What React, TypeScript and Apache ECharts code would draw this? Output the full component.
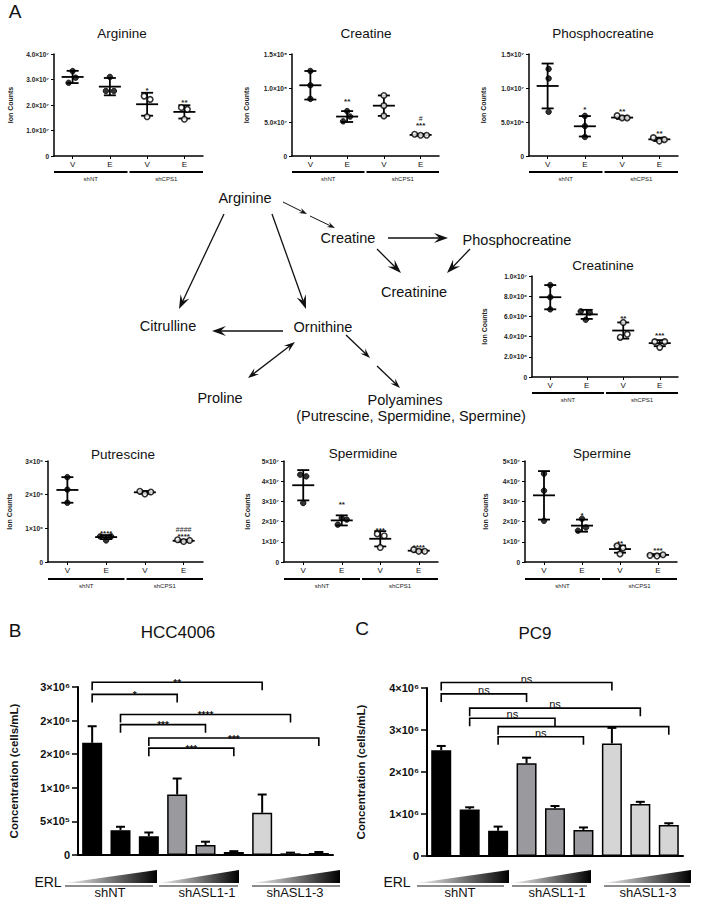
import { useEffect, useRef } from "react";
import * as echarts from "echarts";

const FONT = "'Liberation Sans', Arial, Helvetica, sans-serif";

// ---------------- Panel A : metabolite scatter plots ----------------
const scatterCategories = ["V", "E", "V", "E"];
const scatterGroups = ["shNT", "shCPS1"];

const arginineTicks = ["0", "1.0×10⁷", "2.0×10⁷", "3.0×10⁷", "4.0×10⁷"];
const argininePoints = [[3.33e7, 3.07e7, 2.87e7], [3.1e7, 2.55e7, 2.55e7], [2.35e7, 2.22e7, 1.54e7], [1.9e7, 1.83e7, 1.44e7]];
const arginineMean = [3.1e7, 2.72e7, 2.03e7, 1.73e7];
const arginineSD = [0.24e7, 0.34e7, 0.45e7, 0.26e7];
const arginineStars = ["", "", "*", "**"];
const arginineHash = ["", "", "", ""];

const creatineTicks = ["0", "5.0×10⁷", "1.0×10⁸", "1.5×10⁸"];
const creatinePoints = [[12.5e7, 10.4e7, 8.4e7], [6.6e7, 5.8e7, 5.1e7], [8.9e7, 7.4e7, 5.9e7], [3.2e7, 3.05e7, 3.05e7]];
const creatineMean = [10.4e7, 5.8e7, 7.4e7, 3.1e7];
const creatineSD = [2.1e7, 0.8e7, 1.5e7, 0.1e7];
const creatineStars = ["", "**", "", "***"];
const creatineHash = ["", "", "", "#"];

const phosphoTicks = ["0", "5.0×10⁶", "1.0×10⁷", "1.5×10⁷"];
const phosphoPoints = [[12.8e6, 11.4e6, 6.5e6], [5.9e6, 4.4e6, 2.8e6], [5.94e6, 5.6e6, 5.6e6], [2.7e6, 2.2e6, 2.4e6]];
const phosphoMean = [10.3e6, 4.37e6, 5.65e6, 2.45e6];
const phosphoSD = [3.3e6, 1.5e6, 0.2e6, 0.25e6];
const phosphoStars = ["", "*", "**", "**"];
const phosphoHash = ["", "", "", ""];

const creatinineTicks = ["0", "2.0×10⁶", "4.0×10⁶", "6.0×10⁶", "8.0×10⁶", "1.0×10⁷"];
const creatininePoints = [[9.1e6, 7.9e6, 6.7e6], [6.5e6, 6.37e6, 5.67e6], [5.4e6, 4.23e6, 3.93e6], [3.5e6, 3.5e6, 2.94e6]];
const creatinineMean = [7.9e6, 6.2e6, 4.6e6, 3.35e6];
const creatinineSD = [1.2e6, 0.45e6, 0.8e6, 0.3e6];
const creatinineStars = ["", "", "**", "***"];
const creatinineHash = ["", "", "", ""];

const putrescineTicks = ["0", "1×10⁶", "2×10⁶", "3×10⁶"];
const putrescinePoints = [[2.52e6, 2.15e6, 1.76e6], [0.76e6, 0.76e6, 0.64e6], [2.1e6, 2.02e6, 2.08e6], [0.66e6, 0.61e6, 0.64e6]];
const putrescineMean = [2.14e6, 0.74e6, 2.07e6, 0.63e6];
const putrescineSD = [0.38e6, 0.06e6, 0.04e6, 0.03e6];
const putrescineStars = ["", "****", "", "****"];
const putrescineHash = ["", "", "", "####"];

const spermidineTicks = ["0", "1×10⁷", "2×10⁷", "3×10⁷", "4×10⁷", "5×10⁷"];
const spermidinePoints = [[4.32e7, 4.24e7, 2.92e7], [2.18e7, 2.1e7, 1.85e7], [1.39e7, 1.3e7, 0.72e7], [0.61e7, 0.53e7, 0.53e7]];
const spermidineMean = [3.8e7, 2.06e7, 1.15e7, 0.56e7];
const spermidineSD = [0.75e7, 0.25e7, 0.38e7, 0.05e7];
const spermidineStars = ["", "**", "***", "****"];
const spermidineHash = ["", "", "", ""];

const spermineTicks = ["0", "1×10⁷", "2×10⁷", "3×10⁷", "4×10⁷", "5×10⁷"];
const sperminePoints = [[4.37e7, 3.53e7, 2.04e7], [2.14e7, 1.71e7, 1.55e7], [0.8e7, 0.69e7, 0.4e7], [0.33e7, 0.3e7, 0.36e7]];
const spermineMean = [3.3e7, 1.8e7, 0.64e7, 0.35e7];
const spermineSD = [1.2e7, 0.3e7, 0.18e7, 0.04e7];
const spermineStars = ["", "*", "**", "***"];
const spermineHash = ["", "", "", ""];

// ---------------- Panels B / C : bar charts ----------------
const barCategories = ["shNT-1", "shNT-2", "shNT-3", "shASL1-1-1", "shASL1-1-2", "shASL1-1-3", "shASL1-3-1", "shASL1-3-2", "shASL1-3-3"];
const barGroupNames = ["shNT", "shASL1-1", "shASL1-3"];

const hccTicks = ["0", "5×10⁵", "1×10⁶", "2×10⁶", "2×10⁶", "3×10⁶"];
const hccValues = [1.67e6, 0.37e6, 0.28e6, 0.9e6, 0.148e6, 0.045e6, 0.628e6, 0.025e6, 0.03e6];
const hccErr = [0.246e6, 0.05e6, 0.055e6, 0.238e6, 0.05e6, 0.012e6, 0.272e6, 0.01e6, 0.015e6];
const hccBrackets = [[0, 6, 2.57e6], [0, 3, 2.39e6], [1, 7, 2.09e6], [1, 4, 1.94e6], [2, 8, 1.74e6], [2, 5, 1.59e6]];
const hccBracketLabels = ["**", "*", "****", "***", "***", "***"];

const pc9Ticks = ["0", "1×10⁶", "2×10⁶", "3×10⁶", "4×10⁶"];
const pc9Values = [2.52e6, 1.11e6, 0.6e6, 2.21e6, 1.135e6, 0.62e6, 2.68e6, 1.24e6, 0.74e6];
const pc9Err = [0.1e6, 0.05e6, 0.1e6, 0.13e6, 0.055e6, 0.06e6, 0.37e6, 0.05e6, 0.04e6];
const pc9Brackets = [[0, 6, 4.13e6], [0, 3, 3.86e6], [1, 7, 3.52e6], [1, 4, 3.28e6], [2, 8, 3.08e6], [2, 5, 2.84e6]];
const pc9BracketLabels = ["ns", "ns", "ns", "ns", "", "ns"];

// ---------------- layout / style ----------------
const scatterJitter: Record<string, number[][]> = {
  Arginine: [[0, 3, -4], [0, -4, 4], [-3, 3, 0], [-3, 3, 0]],
  Creatine: [[0, 0, 0], [0, 3, -4], [0, 0, 0], [-6, 0, 6]],
  Phosphocreatine: [[1, 1, 1], [0, 0, 0], [-5, 0, 5], [-6, 0, 5]],
  Creatinine: [[0, 0, 0], [-6, 3, -1], [0, 4, -3], [-5, 5, 0]],
  Putrescine: [[0, 0, 0], [-6, 5, 0], [-5, 0, 6], [-6, 0, 6]],
  Spermidine: [[-3, 3, 0], [0, 5, -4], [-3, 4, 0], [-5, 0, 6]],
  Spermine: [[0, 0, 0], [0, 4, -4], [-3, 3, 0], [-8, -1, 5]],
};

const scatterPanels = [
  { title: "Arginine", tx: 122, ty: 33, left: 54, top: 54, width: 149, height: 102, max: 4e7, interval: 1e7, ticks: arginineTicks, pts: argininePoints, mean: arginineMean, sd: arginineSD, stars: arginineStars, hash: arginineHash, nameGap: 40, lineOff: 16, starGap: [5, 5, 4.7, 4.5] },
  { title: "Creatine", tx: 366, ty: 33, left: 292, top: 54, width: 147, height: 102, max: 1.5e8, interval: 5e7, ticks: creatineTicks, pts: creatinePoints, mean: creatineMean, sd: creatineSD, stars: creatineStars, hash: creatineHash, nameGap: 42, lineOff: 16, starGap: [5, 12, 5, 11] },
  { title: "Phosphocreatine", tx: 603, ty: 33, left: 529, top: 54, width: 149, height: 102, max: 1.5e7, interval: 5e6, ticks: phosphoTicks, pts: phosphoPoints, mean: phosphoMean, sd: phosphoSD, stars: phosphoStars, hash: phosphoHash, nameGap: 42, lineOff: 16, starGap: [5, 8.7, 7, 6] },
  { title: "Creatinine", tx: 603, ty: 265, left: 532, top: 276, width: 146, height: 101, max: 1e7, interval: 2e6, ticks: creatinineTicks, pts: creatininePoints, mean: creatinineMean, sd: creatinineSD, stars: creatinineStars, hash: creatinineHash, nameGap: 44, lineOff: 16, starGap: [5, 5, 6, 7] },
  { title: "Putrescine", tx: 123, ty: 454, left: 48, top: 461, width: 155, height: 101, max: 3e6, interval: 1e6, ticks: putrescineTicks, pts: putrescinePoints, mean: putrescineMean, sd: putrescineSD, stars: putrescineStars, hash: putrescineHash, nameGap: 35, lineOff: 17, starGap: [5, 3.5, 5, 5.7] },
  { title: "Spermidine", tx: 363, ty: 453, left: 284, top: 461, width: 154, height: 101, max: 5e7, interval: 1e7, ticks: spermidineTicks, pts: spermidinePoints, mean: spermidineMean, sd: spermidineSD, stars: spermidineStars, hash: spermidineHash, nameGap: 33, lineOff: 17, starGap: [5, 13, 2.7, 4.3] },
  { title: "Spermine", tx: 602, ty: 453, left: 525, top: 461, width: 152, height: 101, max: 5e7, interval: 1e7, ticks: spermineTicks, pts: sperminePoints, mean: spermineMean, sd: spermineSD, stars: spermineStars, hash: spermineHash, nameGap: 36, lineOff: 17, starGap: [5, 6, 4, 5.4] },
];

const barColors = ["#000000", "#9a9a9e", "#d5d5d5"];

const barPanels = [
  { title: "HCC4006", tx: 178, ty: 632, letter: "B", lx: 15, ly: 630, left: 78, top: 687, width: 255, height: 168, max: 2.5e6, interval: 5e5, ticks: hccTicks, values: hccValues, err: hccErr, brackets: hccBrackets, labels: hccBracketLabels, nameGap: 58, starMode: true,
    erlX: 48, wedges: [[65, 157], [159, 239], [253, 340]], unders: [[65, 153], [159, 238], [252, 340]], groupX: [110, 207, 295] },
  { title: "PC9", tx: 535, ty: 633, letter: "C", lx: 362, ly: 628, left: 427, top: 688, width: 256, height: 168, max: 4e6, interval: 1e6, ticks: pc9Ticks, values: pc9Values, err: pc9Err, brackets: pc9Brackets, labels: pc9BracketLabels, nameGap: 60, starMode: false,
    erlX: 397, wedges: [[417, 509], [512, 591], [603, 691]], unders: [[417, 504], [512, 587], [604, 690]], groupX: [460, 557, 648] },
];

// ---------------- helpers ----------------
function tstyle(text: string, size: number, weight = "normal", align = "center", valign = "middle", color = "#111") {
  return {
    text, fontSize: size, fontFamily: FONT, fontWeight: weight, fill: color,
    align, verticalAlign: valign, textAlign: align, textVerticalAlign: valign,
  };
}
function txt(x: number, y: number, text: string, size: number, weight = "normal", align = "center", color = "#111") {
  return { type: "text", x, y, z: 20, style: tstyle(text, size, weight, align, "middle", color) };
}

function arrowEls(x1: number, y1: number, x2: number, y2: number, head: number, both = false, lw = 1.3) {
  const dx = x2 - x1, dy = y2 - y1;
  const len = Math.hypot(dx, dy);
  const ux = dx / len, uy = dy / len;
  const W = head * 0.7;
  const mk = (tx: number, ty: number, sx: number, sy: number) => {
    const nx = -sy, ny = sx;
    return {
      type: "polygon", z: 20,
      shape: { points: [
        [tx, ty],
        [tx - sx * head + nx * W / 2, ty - sy * head + ny * W / 2],
        [tx - sx * head * 0.62, ty - sy * head * 0.62],
        [tx - sx * head - nx * W / 2, ty - sy * head - ny * W / 2],
      ] },
      style: { fill: "#111" },
    };
  };
  const s = both ? head * 0.5 : 0;
  const els: any[] = [{
    type: "line", z: 20,
    shape: { x1: x1 + ux * s, y1: y1 + uy * s, x2: x2 - ux * head * 0.5, y2: y2 - uy * head * 0.5 },
    style: { stroke: "#111", lineWidth: lw },
  }];
  els.push(mk(x2, y2, ux, uy));
  if (both) els.push(mk(x1, y1, -ux, -uy));
  return els;
}

function buildOption() {
  const grid: any[] = [];
  const xAxis: any[] = [];
  const yAxis: any[] = [];
  const series: any[] = [];
  const graphic: any[] = [];

  scatterPanels.forEach((p, i) => {
    grid.push({ left: p.left, top: p.top, width: p.width, height: p.height, outerBoundsMode: "none", containLabel: false });
    xAxis.push({
      gridIndex: i, type: "category", data: scatterCategories, boundaryGap: true,
      axisLine: { show: true, lineStyle: { color: "#000", width: 1.5 } },
      axisTick: { show: true, alignWithLabel: true, length: 3, lineStyle: { color: "#000", width: 1 } },
      axisLabel: { show: true, interval: 0, fontSize: 8, color: "#111", margin: 4, fontFamily: FONT },
      splitLine: { show: false },
    });
    yAxis.push({
      gridIndex: i, type: "value", min: 0, max: p.max, interval: p.interval,
      axisLine: { show: true, lineStyle: { color: "#000", width: 1.5 } },
      axisTick: { show: true, length: 3, lineStyle: { color: "#000", width: 1 } },
      axisLabel: { fontSize: 6.5, fontWeight: "bold", color: "#222", margin: 5, fontFamily: FONT,
        formatter: (v: number) => p.ticks[Math.round(v / p.interval)] ?? "" },
      splitLine: { show: false },
      name: "Ion Counts", nameLocation: "middle", nameGap: p.nameGap, nameRotate: 90,
      nameTextStyle: { fontSize: 7, fontWeight: "bold", color: "#222", fontFamily: FONT },
    });
    const jit = scatterJitter[p.title];
    series.push({
      type: "scatter", xAxisIndex: i, yAxisIndex: i, z: 5, symbol: "circle",
      data: p.pts.flatMap((vals, c) => vals.map((v, k) => ({
        value: [c, v],
        symbolOffset: [jit[c][k], 0],
        symbolSize: c < 2 ? 5.5 : 5.5,
        itemStyle: c < 2 ? { color: "#000", borderColor: "#000", borderWidth: 1 } : { color: "#fff", borderColor: "#000", borderWidth: 1.6 },
      }))),
    });
    series.push({
      type: "custom", xAxisIndex: i, yAxisIndex: i, z: 4, clip: false,
      data: p.mean.map((m, c) => [c, m, p.sd[c]]),
      renderItem: (params: any, api: any) => {
        const c = api.value(0), m = api.value(1), s = api.value(2);
        const mid = api.coord([c, m]);
        const top = api.coord([c, m + s]);
        const bot = api.coord([c, m - s]);
        const x = mid[0];
        const st = { stroke: "#000", lineWidth: 1.8 };
        const children: any[] = [
          { type: "line", shape: { x1: x - 11, y1: mid[1], x2: x + 11, y2: mid[1] }, style: st },
          { type: "line", shape: { x1: x, y1: top[1], x2: x, y2: bot[1] }, style: st },
          { type: "line", shape: { x1: x - 6, y1: top[1], x2: x + 6, y2: top[1] }, style: st },
          { type: "line", shape: { x1: x - 6, y1: bot[1], x2: x + 6, y2: bot[1] }, style: st },
        ];
        const idx = params.dataIndex;
        const sy = top[1] - p.starGap[idx] + 2;
        if (p.stars[idx]) children.push({ type: "text", x, y: sy, style: tstyle(p.stars[idx], 8, "bold", "center", "middle", "#222") });
        if (p.hash[idx]) children.push({ type: "text", x, y: sy - 6.5, style: tstyle(p.hash[idx], 7, "normal", "center", "middle", "#222") });
        return { type: "group", children };
      },
    });
    series.push({
      type: "custom", xAxisIndex: i, yAxisIndex: i, z: 4, clip: false,
      data: [[0, 0], [2, 1]],
      renderItem: (_params: any, api: any) => {
        const c = api.value(0), g = api.value(1);
        const a = api.coord([c, 0]);
        const b = api.coord([c + 1, 0]);
        const band = api.size([1, 0])[0];
        const x1 = a[0] - band / 2 + (g ? 1 : 0);
        const x2 = b[0] + band / 2 - (g ? 0 : 1);
        const y = a[1] + p.lineOff;
        return {
          type: "group", children: [
            { type: "line", shape: { x1, y1: y, x2, y2: y }, style: { stroke: "#000", lineWidth: 2 } },
            { type: "text", x: (x1 + x2) / 2, y: y + 6.5, style: tstyle(scatterGroups[g], 6, "normal", "center", "middle", "#222") },
          ],
        };
      },
    });
    graphic.push(txt(p.tx, p.ty, p.title, 13.5));
  });

  barPanels.forEach((p, j) => {
    const i = scatterPanels.length + j;
    grid.push({ left: p.left, top: p.top, width: p.width, height: p.height, outerBoundsMode: "none", containLabel: false });
    xAxis.push({
      gridIndex: i, type: "category", data: barCategories, boundaryGap: true,
      axisLine: { show: true, lineStyle: { color: "#000", width: 2 } },
      axisTick: { show: false }, axisLabel: { show: false }, splitLine: { show: false },
    });
    yAxis.push({
      gridIndex: i, type: "value", min: 0, max: p.max, interval: p.interval,
      axisLine: { show: true, lineStyle: { color: "#000", width: 2 } },
      axisTick: { show: true, length: 6, lineStyle: { color: "#000", width: 1.5 } },
      axisLabel: { fontSize: 11, fontWeight: "bold", color: "#111", margin: 8, fontFamily: FONT,
        formatter: (v: number) => p.ticks[Math.round(v / p.interval)] ?? "" },
      splitLine: { show: false },
      name: "Concentration (cells/mL)", nameLocation: "middle", nameGap: p.nameGap,
      nameTextStyle: { fontSize: 11.5, fontWeight: "bold", color: "#111", fontFamily: FONT },
    });
    series.push({
      type: "bar", xAxisIndex: i, yAxisIndex: i, barWidth: 20, z: 3,
      data: p.values.map((v, k) => ({ value: v, itemStyle: { color: barColors[Math.floor(k / 3)], borderColor: "#000", borderWidth: 1.5 } })),
    });
    series.push({
      type: "custom", xAxisIndex: i, yAxisIndex: i, z: 2, clip: false,
      data: p.values.map((v, k) => [k, v, p.err[k]]),
      renderItem: (_params: any, api: any) => {
        const k = api.value(0), v = api.value(1), e = api.value(2);
        const base = api.coord([k, v]);
        const top = api.coord([k, v + e]);
        const st = { stroke: "#000", lineWidth: 2 };
        return {
          type: "group", children: [
            { type: "line", shape: { x1: base[0], y1: base[1], x2: top[0], y2: top[1] }, style: st },
            { type: "line", shape: { x1: top[0] - 4.5, y1: top[1], x2: top[0] + 4.5, y2: top[1] }, style: st },
          ],
        };
      },
    });
    series.push({
      type: "custom", xAxisIndex: i, yAxisIndex: i, z: 4, clip: false,
      data: p.brackets.map((b) => [b[0], b[1], b[2]]),
      renderItem: (params: any, api: any) => {
        const a = api.coord([api.value(0), api.value(2)]);
        const b = api.coord([api.value(1), api.value(2)]);
        const y = a[1];
        const label = p.labels[params.dataIndex];
        const children: any[] = [
          { type: "polyline", shape: { points: [[a[0], y + 8], [a[0], y], [b[0], y], [b[0], y + 8]] }, style: { stroke: "#000", lineWidth: 1.6, fill: "none" } },
        ];
        if (label) {
          children.push(p.starMode
            ? { type: "text", x: (a[0] + b[0]) / 2, y: y + 1, style: tstyle(label, 10, "bold", "center", "middle", "#111") }
            : { type: "text", x: (a[0] + b[0]) / 2, y: y - 4, style: tstyle(label, 11, "normal", "center", "middle", "#111") });
        }
        return { type: "group", children };
      },
    });
    graphic.push(txt(p.tx, p.ty, p.title, 17));
    graphic.push(txt(p.lx, p.ly, p.letter, 19, "normal", "center"));
    graphic.push(txt(p.erlX, 882, "ERL", 14));
    p.wedges.forEach((w) => {
      graphic.push({
        type: "polygon", z: 20,
        shape: { points: [[w[0], 883], [w[1], 883], [w[1], 870]] },
        style: { fill: new echarts.graphic.LinearGradient(0, 0, 1, 0, [{ offset: 0, color: "#f2f2f2" }, { offset: 1, color: "#000" }]) },
      });
    });
    p.unders.forEach((u) => {
      graphic.push({ type: "line", z: 20, shape: { x1: u[0], y1: 886, x2: u[1], y2: 886 }, style: { stroke: "#666", lineWidth: 1.5 } });
    });
    p.groupX.forEach((gx, g) => graphic.push(txt(gx, 892.5, barGroupNames[g], 13)));
  });

  // Panel letter A
  graphic.push(txt(15, 11, "A", 19));

  // Pathway diagram
  const df = 14.5;
  graphic.push(txt(245, 198, "Arginine", df));
  graphic.push(txt(348, 238, "Creatine", df));
  graphic.push(txt(517, 240, "Phosphocreatine", df));
  graphic.push(txt(414, 292, "Creatinine", df));
  graphic.push(txt(168, 326, "Citrulline", df));
  graphic.push(txt(323, 327, "Ornithine", df));
  graphic.push(txt(220, 398, "Proline", df));
  graphic.push(txt(405, 400, "Polyamines", df));
  graphic.push(txt(411, 416, "(Putrescine, Spermidine, Spermine)", df));
  graphic.push(...arrowEls(224, 214, 179, 309, 14));
  graphic.push(...arrowEls(272, 214, 306, 309, 14));
  graphic.push(...arrowEls(283, 202, 307, 214, 8, false, 1));
  graphic.push(...arrowEls(310, 216, 335, 228, 8, false, 1));
  graphic.push(...arrowEls(388, 238, 448, 238, 14));
  graphic.push(...arrowEls(377, 249, 401, 273, 14));
  graphic.push(...arrowEls(470, 249, 447, 273, 14));
  graphic.push(...arrowEls(283, 331, 212, 331, 14));
  graphic.push(...arrowEls(295, 342, 248, 378, 11, true));
  graphic.push(...arrowEls(346, 335, 370, 358, 10));
  graphic.push(...arrowEls(377, 366, 400, 388, 10));

  return {
    animation: false,
    backgroundColor: "#ffffff",
    textStyle: { fontFamily: FONT },
    grid, xAxis, yAxis, series, graphic,
  };
}

export default function App() {
  const ref = useRef<HTMLDivElement>(null);
  useEffect(() => {
    if (!ref.current) return;
    const chart = echarts.init(ref.current, null, { renderer: "svg" });
    chart.setOption(buildOption() as any);
    return () => chart.dispose();
  }, []);
  return <div ref={ref} style={{ position: "fixed", left: 0, top: 0, width: 701, height: 900, background: "#fff" }} />;
}
